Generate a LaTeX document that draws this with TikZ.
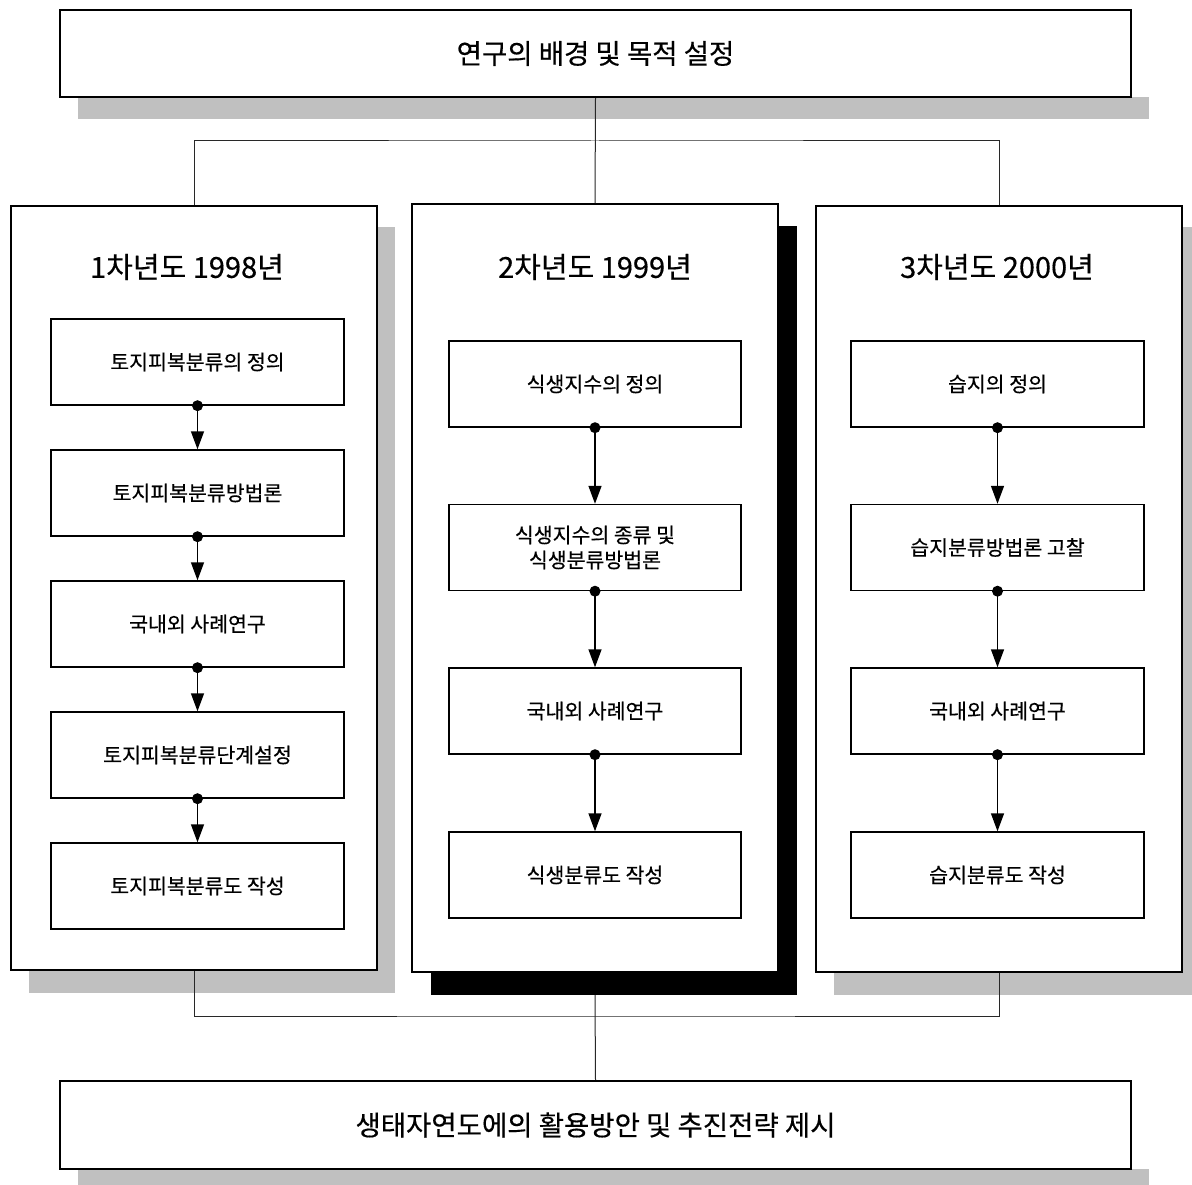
\documentclass[tikz,border=0pt]{standalone}
\usepackage{fontspec}
\setmainfont{Noto Sans CJK KR}[FakeBold=0.4,AutoFakeBold=0.4]
\usetikzlibrary{arrows.meta}
\begin{document}
\begin{tikzpicture}[x=1pt,y=-1pt,
  shadowg/.style={fill={rgb,255:red,192;green,192;blue,192}, draw=none},
  shadowk/.style={fill=black, draw=none},
  bigbox/.style={draw, line width=2.4pt, fill=white, inner sep=0pt, font=\fontsize{27.5}{32}\selectfont},
  panel/.style={draw, line width=2pt, fill=white, inner sep=0pt},
  title/.style={font=\fontsize{29}{33}\selectfont, inner sep=0pt},
  item/.style={draw, line width=1.4pt, fill=white, inner sep=0pt, minimum height=86pt, align=center, font=\fontsize{20.5}{25}\selectfont},
  conn/.style={line width=1pt, draw={rgb,255:red,40;green,40;blue,40}},
  flow/.style={line width=1.4pt, -{Triangle[length=18pt,width=13pt]}},
  dot/.style={fill=black}
]
\useasboundingbox (0,0) rectangle (1192,1185);
% shadows
\fill[shadowg] (78,97) rectangle (1149,119);
\fill[shadowg] (29,227) rectangle (395,993);
\fill[shadowk] (431,226) rectangle (797,995);
\fill[shadowg] (834,227) rectangle (1200,995);
\fill[shadowg] (78,1169) rectangle (1149,1185);
% boxes
\node[bigbox, minimum width=1071pt, minimum height=87pt] (top) at (595.5,53.5) {연구의 배경 및 목적 설정};
\node[bigbox, minimum width=1071pt, minimum height=88pt] (bot) at (595.5,1125) {생태자연도에의 활용방안 및 추진전략 제시};
\coordinate (jt) at (595,141);
\coordinate (jb) at (595,1016);
\node[panel, minimum width=366pt, minimum height=764pt] (p1) at (194,588) {};
\node[panel, minimum width=366pt, minimum height=768pt] (p2) at (595,588) {};
\node[panel, minimum width=366pt, minimum height=766pt] (p3) at (999,589) {};
% connectors
\draw[conn] (top.south) -- (p2.north);
\draw[conn] (p1.north) |- (jt) -| (p3.north);
\draw[conn] (p1.south) |- (jb) -| (p3.south);
\draw[conn] (595,995) -- (bot.north);
% titles
\node[title] (t1) at (187,267) {1차년도 1998년};
\node[title] (t2) at (595,267) {2차년도 1999년};
\node[title] (t3) at (997,267) {3차년도 2000년};
% panel 1 items
\node[item, minimum width=293pt] (a1) at (197.5,362) {토지피복분류의 정의};
\node[item, minimum width=293pt] (a2) at (197.5,493) {토지피복분류방법론};
\node[item, minimum width=293pt] (a3) at (197.5,624) {국내외 사례연구};
\node[item, minimum width=293pt] (a4) at (197.5,755) {토지피복분류단계설정};
\node[item, minimum width=293pt] (a5) at (197.5,886) {토지피복분류도 작성};
% panel 2 items
\node[item, minimum width=292pt] (b1) at (595,384) {식생지수의 정의};
\node[item, minimum width=292pt] (b2) at (595,547.5) {식생지수의 종류 및\\식생분류방법론};
\node[item, minimum width=292pt] (b3) at (595,711) {국내외 사례연구};
\node[item, minimum width=292pt] (b4) at (595,875) {식생분류도 작성};
% panel 3 items
\node[item, minimum width=293pt] (c1) at (997.5,384) {습지의 정의};
\node[item, minimum width=293pt] (c2) at (997.5,547.5) {습지분류방법론 고찰};
\node[item, minimum width=293pt] (c3) at (997.5,711) {국내외 사례연구};
\node[item, minimum width=293pt] (c4) at (997.5,875) {습지분류도 작성};
% flow arrows
\foreach \u/\v in {a1/a2,a2/a3,a3/a4,a4/a5,b1/b2,b2/b3,b3/b4,c1/c2,c2/c3,c3/c4}{
  \draw[flow] (\u.south) -- (\v.north);
  \fill[dot] (\u.south) circle (5.5pt);
}
\end{tikzpicture}
\end{document}
